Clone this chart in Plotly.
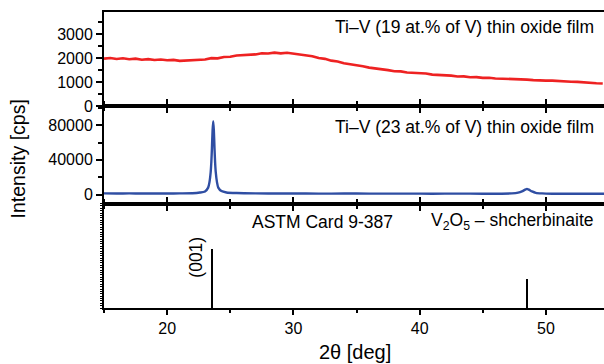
import numpy as np
import plotly.graph_objects as go

# ---------------- data ----------------
# Top panel: Ti-V (19 at.% V) film, red
two_theta_19 = [15.0 + 0.5 * i for i in range(80)]
intensity_19 = [
    1990, 2015, 1975, 2005, 1965, 1990, 1945, 1970, 1935, 1955,
    1920, 1935, 1895, 1905, 1905, 1945, 1955, 2010, 2000, 2060,
    2065, 2120, 2125, 2160, 2165, 2210, 2200, 2240, 2210, 2235,
    2195, 2180, 2125, 2090, 2015, 1980, 1905, 1870, 1795, 1760,
    1695, 1670, 1615, 1590, 1535, 1510, 1465, 1460, 1415, 1410,
    1375, 1370, 1325, 1320, 1285, 1280, 1245, 1250, 1215, 1220,
    1190, 1195, 1165, 1160, 1135, 1140, 1115, 1115, 1095, 1100,
    1075, 1075, 1050, 1050, 1025, 1020, 995, 995, 965, 955,
]

# Middle panel: Ti-V (23 at.% V) film, blue
two_theta_23 = [15.0, 16.0, 17.0, 18.0, 19.0, 20.0, 21.0, 22.0, 22.6, 23.0,
                23.25, 23.35, 23.45, 23.5, 23.55, 23.6, 23.65, 23.7, 23.75, 23.8,
                23.85, 23.95, 24.05, 24.3, 24.7, 25.5, 27.0, 29.0, 31.0, 33.0,
                35.0, 37.0, 39.0, 41.0, 43.0, 45.0, 46.5, 47.3, 47.8, 48.1,
                48.35, 48.5, 48.65, 48.9, 49.2, 49.7, 50.5, 52.0, 53.5, 54.6]
intensity_23 = [1300, 1250, 1300, 1200, 1250, 1200, 1300, 1500, 2300, 3600,
                8000, 14000, 26000, 37000, 54000, 74000, 84600, 74000, 54000, 37000,
                26000, 14000, 8000, 4000, 2400, 1700, 1300, 1200, 1150, 1100,
                1150, 1050, 1100, 1000, 1050, 1000, 1000, 1300, 2200, 3600,
                5600, 6500, 5600, 3600, 2000, 1300, 1000, 950, 1000, 950]

# Bottom panel: ASTM card 9-387 (V2O5, shcherbinaite) reference lines
card_two_theta = [23.58, 48.5]
card_intensity = [100, 50]

x_tick_vals = [20, 30, 40, 50]

# ---------------- figure ----------------
RED = "#ee2222"
BLUE = "#2f4ea3"
FONT = "Liberation Sans, Arial, sans-serif"

fig = go.Figure()
fig.add_trace(go.Scatter(x=two_theta_19, y=intensity_19, mode="lines",
                         line=dict(color=RED, width=2.6), xaxis="x3", yaxis="y3",
                         showlegend=False))
fig.add_trace(go.Scatter(x=two_theta_23, y=intensity_23, mode="lines",
                         line=dict(color=BLUE, width=2.4, shape="spline", smoothing=0.6),
                         xaxis="x2", yaxis="y2", showlegend=False))
fig.add_trace(go.Bar(x=card_two_theta, y=card_intensity, width=0.16,
                     marker=dict(color="black", line=dict(width=0)),
                     xaxis="x", yaxis="y", showlegend=False))

XR = [15, 54.6]
d_bot = [0, 0.3528]
d_mid = [0.3528, 0.681]
d_top = [0.681, 1]

common_x = dict(range=XR, showline=True, linecolor="black", linewidth=2,
                mirror="allticks", ticks="outside", ticklen=5, tickwidth=1.5,
                tickcolor="black", tickvals=x_tick_vals, showgrid=False,
                zeroline=False,
                minor=dict(dtick=5, tick0=15, ticks="outside", ticklen=3,
                           tickwidth=1.5, tickcolor="black"))
common_y = dict(showline=True, linecolor="black", linewidth=2, mirror=False,
                ticks="outside", ticklen=6, tickwidth=1.5, tickcolor="black",
                showgrid=False, zeroline=False,
                tickfont=dict(size=16, color="black", family=FONT))

fig.update_layout(
    width=604, height=364,
    margin=dict(l=104, r=0, t=12, b=56),
    paper_bgcolor="white", plot_bgcolor="white",
    font=dict(family=FONT, color="black", size=15),
    bargap=0,
    xaxis=dict(**common_x, anchor="y", showticklabels=True,
               tickfont=dict(size=16, color="black", family=FONT)),
    xaxis2=dict(**common_x, anchor="y2", matches="x", showticklabels=False),
    xaxis3=dict(**{**common_x, "mirror": True}, anchor="y3", matches="x",
                showticklabels=False),
    yaxis=dict(**{**common_y, "ticklen": 2, "tickwidth": 1}, domain=d_bot,
               range=[0, 176], dtick=4, showticklabels=False),
    yaxis2=dict(**common_y, domain=d_mid, range=[-10400, 101600],
                tickvals=[0, 40000, 80000], ticktext=["0", "40000", "80000"],
                minor=dict(dtick=20000, tick0=0, ticks="outside", ticklen=4,
                           tickwidth=1.5, tickcolor="black")),
    yaxis3=dict(**common_y, domain=d_top, range=[0, 3930],
                tickvals=[0, 1000, 2000, 3000],
                minor=dict(dtick=500, tick0=0, ticks="outside", ticklen=4,
                           tickwidth=1.5, tickcolor="black")),
)

ANN = 17.5
ann = [
    dict(text="Ti–V (19 at.% of V) thin oxide film", x=0.984, y=0.948,
         xanchor="right", yanchor="middle"),
    dict(text="Ti–V (23 at.% of V) thin oxide film", x=0.984, y=0.613,
         xanchor="right", yanchor="middle"),
    dict(text="ASTM Card 9-387", x=0.436, y=0.292, xanchor="center", yanchor="middle"),
    dict(text="V<sub>2</sub>O<sub>5</sub> – shcherbinaite", x=0.984, y=0.292,
         xanchor="right", yanchor="middle"),
    dict(text="(001)", x=0.184, y=0.170, textangle=-90, xanchor="center",
         yanchor="middle"),
    dict(text="Intensity [cps]", x=-0.172, y=0.502, textangle=-90,
         xanchor="center", yanchor="middle", font=dict(size=19.5, family=FONT)),
    dict(text="2θ [deg]", x=0.502, y=-0.148, xanchor="center", yanchor="middle",
         font=dict(size=20, family=FONT)),
]
for a in ann:
    a.setdefault("font", dict(size=ANN, family=FONT))
    fig.add_annotation(xref="paper", yref="paper", showarrow=False, **a)

fig.write_html(
    "out.html",
    config={"displayModeBar": False},
    post_script="document.body.style.margin='0';document.body.style.overflow='hidden';",
)
